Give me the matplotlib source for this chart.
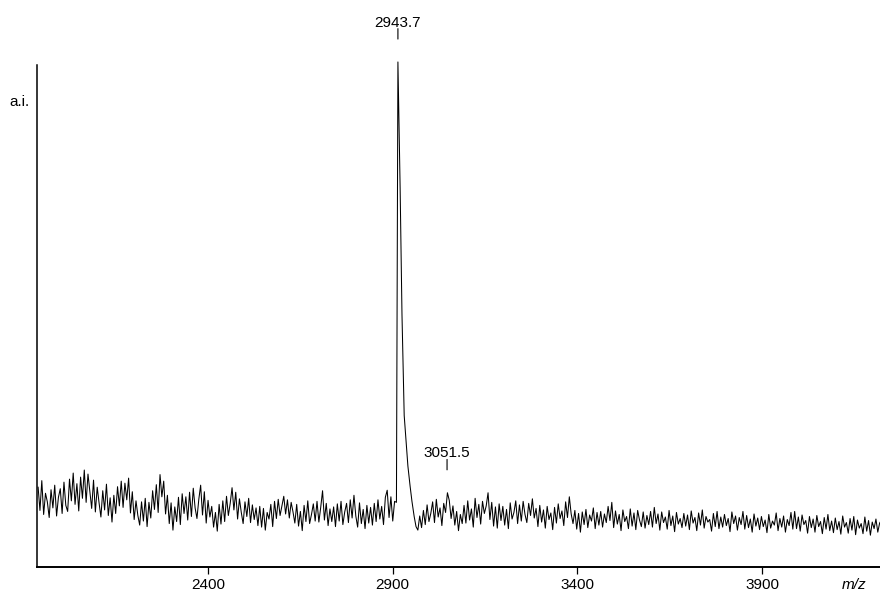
import matplotlib
matplotlib.use("Agg")
import matplotlib.pyplot as plt
import numpy as np

plt.rcParams.update({"font.family": ["Liberation Sans", "DejaVu Sans"], "font.size": 11})

# Baseline noise, 5 m/z steps starting at 1940 (a.i., peak = 100)
noise_left = [
    15.8, 11.2, 17.1, 10.4, 14.6, 12.9, 9.8, 15.3, 11.7, 16.2, 10.1, 13.8, 15.5, 10.6, 16.8, 12.2, 11.0, 17.4, 13.1, 18.6,
    12.4, 16.5, 11.1, 17.8, 13.6, 19.2, 12.8, 18.4, 14.9, 11.6, 17.2, 10.9, 15.8, 12.7, 9.9, 15.1, 11.3, 16.4, 10.2, 13.7,
    8.9, 14.2, 10.6, 15.9, 12.1, 17.0, 11.8, 16.6, 13.3, 17.6, 10.7, 14.9, 9.4, 13.1, 10.2, 8.3, 12.9, 9.1, 13.6, 8.0,
    12.8, 9.7, 15.1, 11.4, 16.3, 10.8, 18.3, 13.9, 17.0, 10.5, 14.2, 8.6, 12.7, 7.3, 11.9, 9.0, 13.8, 8.4, 14.5, 10.6,
    13.9, 9.3, 14.8, 10.0, 15.6, 11.7, 9.6, 13.4, 16.2, 10.3, 14.9, 8.7, 13.2, 9.9, 12.0, 7.9, 10.8, 7.1, 12.4, 8.5,
    13.1, 9.0, 14.0, 10.2, 12.6, 15.7, 11.3, 14.8, 9.5, 13.5, 10.8, 8.6, 12.9, 10.0, 13.6, 8.8, 12.3, 9.4, 11.7, 8.2,
    12.0, 7.9, 11.6, 7.3, 10.8, 9.5, 12.4, 8.0, 13.0, 9.6, 13.4, 10.2, 12.1, 14.0, 10.5, 13.3, 9.7, 12.8, 10.9, 8.7,
    12.4, 8.1, 11.0, 7.2, 12.2, 9.0, 13.1, 8.6, 10.4, 12.5, 9.1, 13.0, 8.9, 11.8, 15.1, 9.3, 12.6, 8.2, 11.5, 9.0,
    11.9, 8.0, 12.5, 9.1, 13.0, 8.4, 10.9, 12.6, 8.8, 13.3, 9.7, 14.2, 10.1, 7.9, 12.7, 8.6, 11.4, 7.6, 12.2, 8.7,
    11.8, 8.3, 12.6, 9.0, 13.3, 9.5, 12.0, 8.4, 13.8, 15.2, 9.8, 13.9, 9.1, 13.0,
]

# Main peak, points read along the drawn profile
peak_mz = [2910, 2914, 2920, 2925, 2931, 2936, 2941, 2947, 2952, 2958, 2963]
peak_int = [12.8, 100.0, 75.0, 50.0, 30.0, 25.0, 20.0, 16.0, 13.0, 10.0, 8.0]

# Noise after the peak, 5 m/z steps starting at 2968
noise_right = [
    7.3, 10.1, 7.8, 11.2, 8.4, 12.3, 9.0, 10.6, 12.9, 8.8, 13.4, 9.9, 11.7, 8.2, 12.6, 10.8, 14.7, 13.2, 9.6, 12.1, 8.3, 11.0, 7.2, 10.4, 8.6,
    12.2, 8.7, 13.1, 9.3, 11.5, 7.9, 13.6, 9.8, 12.4, 8.5, 13.0, 10.6, 12.1, 14.7, 9.4, 12.8, 8.1, 11.9, 7.7, 12.5,
    9.2, 12.0, 8.3, 11.4, 7.6, 12.7, 9.5, 10.8, 13.1, 8.6, 12.3, 9.1, 13.0, 10.4, 8.8, 12.6, 10.2, 13.5, 9.7, 11.6,
    8.0, 12.2, 8.9, 11.3, 7.7, 12.0, 9.4, 10.7, 7.4, 11.8, 8.7, 12.5, 9.6, 11.1, 8.2, 12.9, 9.8, 13.9, 10.5, 8.6,
    11.2, 7.5, 10.6, 6.9, 10.9, 8.4, 11.4, 7.8, 10.3, 9.1, 11.7, 7.6, 10.8, 8.3, 11.0, 7.9, 10.5, 8.8, 12.0, 9.2,
    12.8, 7.8, 11.1, 8.5, 10.4, 7.2, 11.3, 9.0, 10.0, 7.6, 11.5, 8.1, 10.7, 7.4, 11.2, 9.3, 8.0, 10.9, 7.7, 10.2,
    8.4, 11.0, 7.9, 11.8, 8.6, 10.5, 7.3, 10.9, 8.8, 9.9, 7.5, 11.2, 8.2, 10.1, 7.0, 10.8, 8.5, 9.6, 7.8, 10.6,
    8.1, 10.3, 7.4, 11.1, 8.7, 9.8, 7.2, 10.7, 8.3, 11.3, 7.7, 10.0, 8.9, 9.4, 7.1, 10.6, 8.0, 11.0, 7.6, 9.9,
    7.9, 10.4, 8.2, 9.6, 7.0, 10.9, 8.6, 10.1, 7.3, 9.8, 8.4, 11.0, 7.5, 10.2, 7.8, 9.5, 6.9, 10.5, 8.1, 9.7,
    7.4, 10.0, 8.0, 9.3, 6.8, 10.4, 7.7, 9.1, 8.3, 10.7, 7.2, 9.6, 7.9, 10.1, 6.9, 9.4, 8.2, 10.8, 7.5, 11.0,
    7.6, 9.9, 7.1, 10.3, 8.4, 9.2, 6.7, 10.0, 7.8, 9.5, 6.9, 10.2, 8.0, 9.0, 6.6, 9.8, 7.5, 10.4, 7.2, 9.1,
    6.8, 9.7, 7.4, 9.0, 6.5, 10.1, 7.9, 8.8, 6.7, 9.6, 7.3, 10.0, 6.4, 9.3, 7.7, 8.6, 6.6, 9.9, 7.1, 9.2, 6.3, 8.9, 7.6, 9.5, 6.9, 8.7, 9.3,
]

label_mz = [2914, 3047]
label_text = ["2943.7", "3051.5"]
xticks = [2400, 2900, 3400, 3900]

mz = np.concatenate([1940 + 5 * np.arange(len(noise_left)), peak_mz,
                     2968 + 5 * np.arange(len(noise_right))])
inten = np.concatenate([noise_left, peak_int, noise_right])

fig = plt.figure(figsize=(8.8, 5.91), dpi=100)
ax = fig.add_axes([37 / 880, 24 / 591, 843 / 880, 502 / 591])
ax.plot(mz, inten, color="black", linewidth=0.75, clip_on=False)
ax.set_xlim(1937, 4219)
ax.set_ylim(0, 99.4)

for s in ("top", "right"):
    ax.spines[s].set_visible(False)
ax.spines["left"].set_linewidth(1.1)
ax.spines["bottom"].set_linewidth(1.4)
ax.set_yticks([])
ax.set_xticks(xticks)
ax.tick_params(axis="x", direction="out", length=5, width=0.9, pad=3, labelsize=11)

# peak labels with a short marker line above each peak
for m, t in zip(label_mz, label_text):
    ytop = inten[np.abs(mz - m) <= 6].max()
    ax.annotate("", xy=(m, ytop), xytext=(0, 24), textcoords="offset points",
                arrowprops=dict(arrowstyle="-", lw=0.8, color="black",
                                shrinkA=0, shrinkB=16.5),
                annotation_clip=False)
    ax.annotate(t, xy=(m, ytop), xytext=(0, 25.5), textcoords="offset points",
                ha="center", va="baseline", fontsize=11, annotation_clip=False)

fig.text(19.5 / 880, 1 - 102 / 591, "a.i.", ha="center", va="center", fontsize=11)
fig.text(854 / 880, 1 - 585 / 591, "m/z", ha="center", va="center", fontsize=11,
         style="italic")

fig.savefig("out.png", dpi=100)
